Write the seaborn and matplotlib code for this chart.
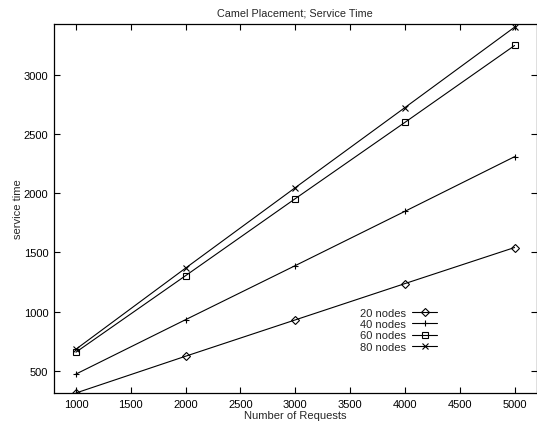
import matplotlib
matplotlib.use("Agg")
import matplotlib.pyplot as plt
import seaborn as sns
import pandas as pd

requests = [1000, 2000, 3000, 4000, 5000]
nodes_labels = ["20 nodes", "40 nodes", "60 nodes", "80 nodes"]
t20 = [312, 623, 930, 1237, 1542]
t40 = [472, 932, 1389, 1848, 2310]
t60 = [657, 1304, 1955, 2600, 3250]
t80 = [682, 1368, 2048, 2725, 3405]

series = [t20, t40, t60, t80]

sns.set_style("ticks")
plt.rcParams["font.family"] = ["Liberation Sans", "DejaVu Sans"]

fig = plt.figure(figsize=(5.37, 4.27), dpi=100)
ax = fig.add_axes([54/537, 33/427, (536.5-54)/537, (394-24.5)/427])

markers = ["D", "+", "s", "x"]
msizes = [3.6, 5, 4.2, 4.2]
for lab, vals, mk, ms in zip(nodes_labels, series, markers, msizes):
    df = pd.DataFrame({"requests": requests, "time": vals})
    sns.lineplot(data=df, x="requests", y="time", color="black", marker=mk,
                 markersize=ms, markeredgecolor="black", markerfacecolor="none",
                 markeredgewidth=0.8, linewidth=0.8, ax=ax, label=lab, legend=False)
for line in ax.lines:
    line.set_markerfacecolor("none")
    line.set_markeredgecolor("black")

ax.set_xlim(800, 5200)
ax.set_ylim(312, 3436)
ax.set_xticks(range(1000, 5001, 500))
ax.set_yticks(range(500, 3001, 500))
ax.tick_params(direction="in", length=4, width=0.8, labelsize=8, top=True, right=True,
               pad=4, colors="black")
for s in ax.spines.values():
    s.set_visible(True)
    s.set_linewidth(0.9)
    s.set_color("black")

ax.set_xlabel("Number of Requests", fontsize=8, labelpad=1)
ax.set_ylabel("service time", fontsize=8, labelpad=0.5)
ax.set_title("Camel Placement; Service Time", fontsize=7.8, pad=6)

handles = list(ax.lines)
leg = ax.legend(handles, nodes_labels, markerfirst=False, frameon=False,
                fontsize=8, loc="upper left",
                bbox_to_anchor=(352/537, (427-301)/427), bbox_transform=fig.transFigure,
                handlelength=2.2, handletextpad=0.6, labelspacing=0.12,
                borderpad=0.2)

fig.savefig("out.png", dpi=100)
